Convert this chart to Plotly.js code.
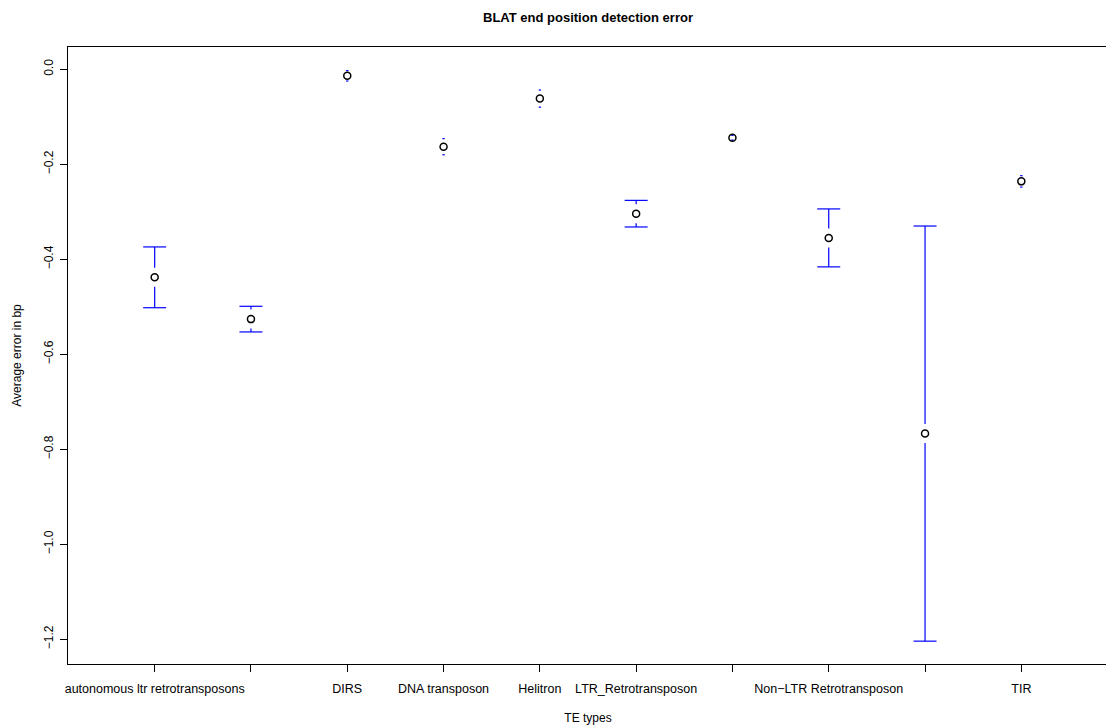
<!DOCTYPE html>
<html>
<head>
<meta charset="utf-8">
<script src="https://cdn.plot.ly/plotly-3.0.1.min.js"></script>
<style>
  html, body { margin: 0; padding: 0; overflow: hidden; background: #ffffff; }
  #chart { width: 1110px; height: 728px; }
</style>
</head>
<body>
<div id="chart"></div>
<script>
// TE type labels on the x axis (blank where the label is crowded out)
const categories = [
  "autonomous ltr retrotransposons", "", "DIRS", "DNA transposon", "Helitron",
  "LTR_Retrotransposon", "", "Non\u2212LTR Retrotransposon", "", "TIR"
];
// Average end position error (bp) per TE type
const meanError = [-0.438, -0.526, -0.0137, -0.163, -0.0617, -0.304, -0.144, -0.355, -0.767, -0.236];
// Half-width of the interval around each mean
const halfWidth = [0.064, 0.027, 0.011, 0.017, 0.018, 0.028, 0.005, 0.061, 0.437, 0.012];
const yTicks = [0.0, -0.2, -0.4, -0.6, -0.8, -1.0, -1.2];

const xs = categories.map((_, i) => i + 1);

// plot geometry used to size the bar gap and caps in data units
const margin = {l: 68, r: 2, t: 47, b: 64};
const W = 1110, H = 728;
const xRange = [0.1, 10.9];
const yRange = [-1.2521, 0.0469];
const pxX = (W - margin.l - margin.r) / (xRange[1] - xRange[0]);
const pxY = (H - margin.t - margin.b) / (yRange[1] - yRange[0]);
const gap = 9.5 / pxY;       // space left around each point
const cap = 11.5 / pxX;      // half-length of the end caps
const stub = 1.2 / pxX;      // half-length of the mark for very short bars

const bx = [], by = [];
xs.forEach((x, i) => {
  const y = meanError[i], e = halfWidth[i];
  if (e > gap) {
    // upper whisker with cap
    bx.push(x, x, null, x - cap, x + cap, null);
    by.push(y + gap, y + e, null, y + e, y + e, null);
    // lower whisker with cap
    bx.push(x, x, null, x - cap, x + cap, null);
    by.push(y - gap, y - e, null, y - e, y - e, null);
  } else {
    bx.push(x - stub, x + stub, null, x - stub, x + stub, null);
    by.push(y + e, y + e, null, y - e, y - e, null);
  }
});

const traces = [
  {
    x: bx, y: by, type: "scatter", mode: "lines",
    line: {color: "#0000ff", width: 1.2},
    hoverinfo: "skip", showlegend: false
  },
  {
    x: xs, y: meanError, type: "scatter", mode: "markers",
    marker: {symbol: "circle-open", size: 7, color: "#000000", line: {width: 1.5, color: "#000000"}},
    showlegend: false
  }
];

const font = {family: "Liberation Sans, Arial, sans-serif", size: 12, color: "#000000"};
const xFont = {family: font.family, size: 12.5, color: "#000000"};

const layout = {
  width: W, height: H,
  margin: margin,
  paper_bgcolor: "#ffffff", plot_bgcolor: "#ffffff",
  font: font,
  title: {
    text: "<b>BLAT end position detection error</b>",
    font: {family: font.family, size: 13, color: "#000000"},
    x: 0.5, xref: "paper", xanchor: "center",
    y: 1 - 17.5 / H, yref: "container", yanchor: "middle"
  },
  xaxis: {
    range: xRange, tickvals: xs, ticktext: categories,
    showgrid: false, zeroline: false,
    showline: true, mirror: true, linecolor: "#000000", linewidth: 1,
    ticks: "outside", ticklen: 7, tickwidth: 1, tickcolor: "#000000",
    tickangle: 0, ticklabelstandoff: 6,
    tickfont: xFont,
    title: {text: "TE types", font: font, standoff: 18}
  },
  yaxis: {
    range: yRange, tickvals: yTicks, tickformat: ".1f",
    showgrid: false, zeroline: false,
    showline: true, mirror: true, linecolor: "#000000", linewidth: 1,
    ticks: "outside", ticklen: 7, tickwidth: 1, tickcolor: "#000000",
    tickangle: -90, ticklabelstandoff: 2,
    tickfont: font,
    title: {text: "Average error in bp", font: font, standoff: 18}
  }
};

Plotly.newPlot("chart", traces, layout, {displayModeBar: false, staticPlot: true});
</script>
</body>
</html>
